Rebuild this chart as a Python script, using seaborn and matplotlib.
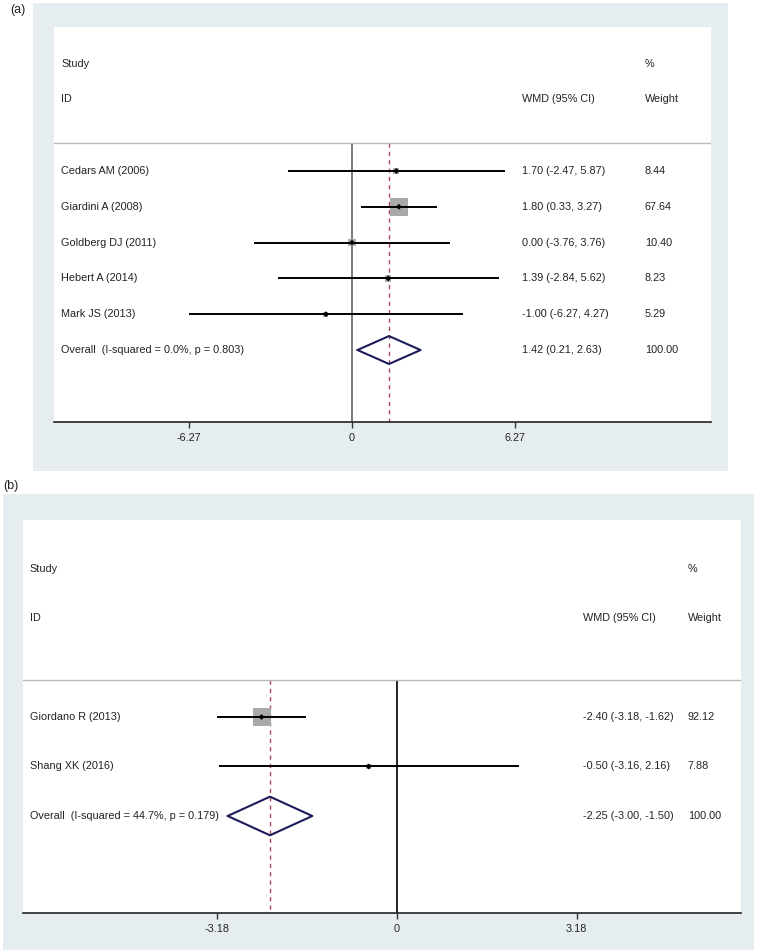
import numpy as np
import matplotlib
matplotlib.use("Agg")
import matplotlib.pyplot as plt
import seaborn as sns
from matplotlib.patches import Rectangle

# panel (a)
studies_a = ["Cedars AM (2006)", "Giardini A (2008)", "Goldberg DJ (2011)",
             "Hebert A (2014)", "Mark JS (2013)"]
est_a = [1.70, 1.80, 0.00, 1.39, -1.00]
lo_a = [-2.47, 0.33, -3.76, -2.84, -6.27]
hi_a = [5.87, 3.27, 3.76, 5.62, 4.27]
wt_a = [8.44, 67.64, 10.40, 8.23, 5.29]
overall_a = [1.42, 0.21, 2.63]
het_a = "Overall  (I-squared = 0.0%, p = 0.803)"
ticks_a = [-6.27, 0, 6.27]

# panel (b)
studies_b = ["Giordano R (2013)", "Shang XK (2016)"]
est_b = [-2.40, -0.50]
lo_b = [-3.18, -3.16]
hi_b = [-1.62, 2.16]
wt_b = [92.12, 7.88]
overall_b = [-2.25, -3.00, -1.50]
het_b = "Overall  (I-squared = 44.7%, p = 0.179)"
ticks_b = [-3.18, 0, 3.18]

sns.set_theme(style="white")
plt.rcParams["font.family"] = ["Liberation Sans", "DejaVu Sans"]

W, H = 760, 950
fig = plt.figure(figsize=(7.6, 9.5), dpi=100)
BG = "#e6edf0"
TXT = "#222222"
FS = 7.8


def px_rect(x0, y0, x1, y1):
    return [x0 / W, 1 - y1 / H, (x1 - x0) / W, (y1 - y0) / H]


def forest(box, inner, xlim, ylim, sep, studies, est, lo, hi, wt, overall,
           het, ticks, cols, zero_color, diam_h):
    r = px_rect(*box)
    fig.add_artist(Rectangle((r[0], r[1]), r[2], r[3], transform=fig.transFigure,
                             facecolor=BG, edgecolor="none", zorder=-10))
    ax = fig.add_axes(px_rect(*inner))
    ax.set_facecolor("white")
    ax.set_xlim(*xlim)
    ax.set_ylim(*ylim)
    rows = np.arange(len(studies))
    orow = len(studies)
    tr = ax.get_yaxis_transform()

    # headers
    ax.text(cols[0], -3, "Study", transform=tr, fontsize=FS, color=TXT, va="center")
    ax.text(cols[0], -2, "ID", transform=tr, fontsize=FS, color=TXT, va="center")
    ax.text(cols[1], -2, "WMD (95% CI)", transform=tr, fontsize=FS, color=TXT, va="center")
    ax.text(cols[2], -3, "%", transform=tr, fontsize=FS, color=TXT, va="center")
    ax.text(cols[2], -2, "Weight", transform=tr, fontsize=FS, color=TXT, va="center")
    ax.axhline(sep, color="#b8b8b8", lw=1.0)

    # reference lines
    ax.vlines(0, sep, ylim[0], color=zero_color, lw=1.3, zorder=1)
    ax.vlines(overall[0], sep, ylim[0], color="#a84a5a", lw=1.0,
              linestyles=(0, (3, 3)), zorder=1)

    # boxes, CIs, points
    sizes = 168 * np.array(wt) / max(wt)
    sns.scatterplot(x=est, y=rows, s=sizes, marker="s", color="#aaaaaa",
                    edgecolor="none", linewidth=0, legend=False, ax=ax, zorder=2)
    ax.hlines(rows, lo, hi, color="black", lw=1.4, zorder=3)
    sns.scatterplot(x=est, y=rows, s=9, marker="D", color="black",
                    edgecolor="none", legend=False, ax=ax, zorder=4)

    # overall diamond
    e, l, h = overall
    ax.plot([l, e, h, e, l], [orow, orow - diam_h, orow, orow + diam_h, orow],
            color="#1c1c5a", lw=1.5, zorder=3)

    # text columns
    for i, s in enumerate(studies):
        ax.text(cols[0], i, s, transform=tr, fontsize=FS, color=TXT, va="center")
        ax.text(cols[1], i, f"{est[i]:.2f} ({lo[i]:.2f}, {hi[i]:.2f})",
                transform=tr, fontsize=FS, color=TXT, va="center")
        ax.text(cols[2], i, f"{wt[i]:.2f}", transform=tr, fontsize=FS,
                color=TXT, va="center")
    ax.text(cols[0], orow, het, transform=tr, fontsize=FS, color=TXT, va="center")
    ax.text(cols[1], orow, f"{e:.2f} ({l:.2f}, {h:.2f})", transform=tr,
            fontsize=FS, color=TXT, va="center")
    ax.text(cols[2], orow, f"{sum(wt):.2f}", transform=tr, fontsize=FS,
            color=TXT, va="center")

    ax.set_xticks(ticks)
    ax.set_xticklabels(["0" if t == 0 else f"{t:.2f}" for t in ticks])
    ax.set_yticks([])
    ax.tick_params(axis="x", bottom=True, length=4, width=1, color="#333333",
                   labelsize=FS, labelcolor=TXT, pad=4)
    for k in ["top", "left", "right"]:
        ax.spines[k].set_visible(False)
    ax.spines["bottom"].set_color("#222222")
    ax.spines["bottom"].set_linewidth(1.2)
    return ax


forest(box=(33, 3, 728, 471), inner=(54, 27, 711, 422),
       xlim=(-11.43, 13.77), ylim=(7.01, -4.02), sep=-0.78,
       studies=studies_a, est=est_a, lo=lo_a, hi=hi_a, wt=wt_a,
       overall=overall_a, het=het_a, ticks=ticks_a,
       cols=(0.0107, 0.712, 0.8995), zero_color="#707070", diam_h=0.39)

forest(box=(3, 494, 754, 950), inner=(23, 520, 741, 913),
       xlim=(-6.625, 6.094), ylim=(3.96, -3.98), sep=-0.75,
       studies=studies_b, est=est_b, lo=lo_b, hi=hi_b, wt=wt_b,
       overall=overall_b, het=het_b, ticks=ticks_b,
       cols=(0.0097, 0.78, 0.926), zero_color="#111111", diam_h=0.39)

fig.text(10 / W, 1 - 10 / H, "(a)", fontsize=9, color=TXT, va="center")
fig.text(3 / W, 1 - 486 / H, "(b)", fontsize=9, color=TXT, va="center")

fig.savefig("out.png", dpi=100)
